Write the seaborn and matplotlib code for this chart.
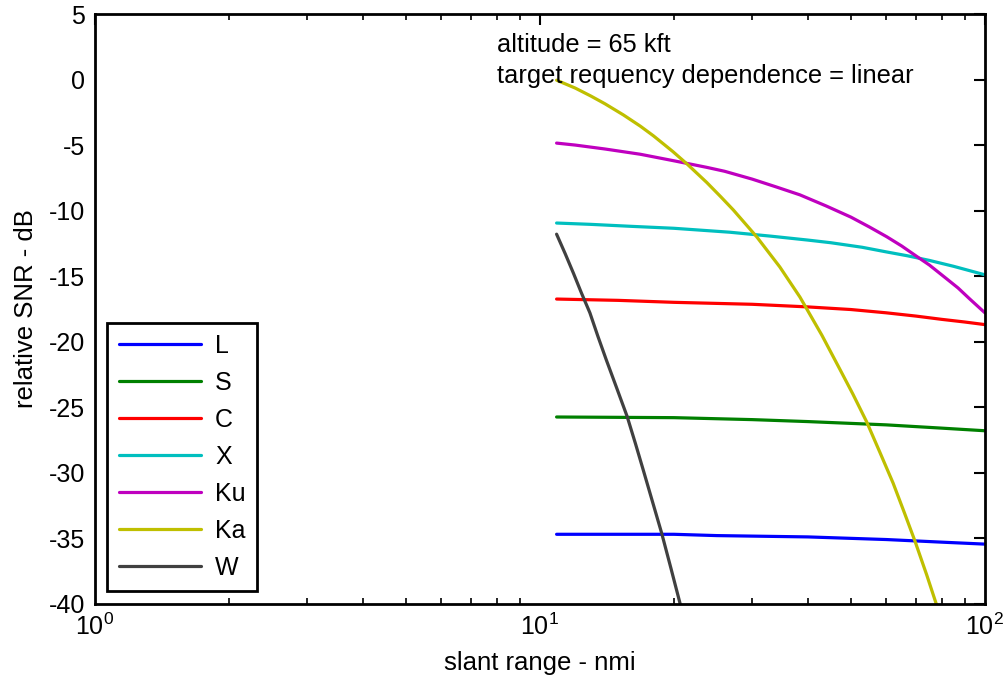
import matplotlib
matplotlib.use("Agg")
import matplotlib.pyplot as plt
import seaborn as sns
import pandas as pd

# slant range (nmi) and relative SNR (dB), per band
x_L = [10.9, 20, 25, 40, 60, 80, 100]
y_L = [-34.7, -34.7, -34.8, -34.9, -35.1, -35.3, -35.45]

x_S = [10.9, 20, 30, 40, 60, 80, 100]
y_S = [-25.75, -25.8, -25.95, -26.1, -26.35, -26.6, -26.8]

x_C = [10.9, 15, 20, 30, 40, 50, 60, 70, 80, 90, 100]
y_C = [-16.75, -16.85, -17.0, -17.15, -17.35, -17.55, -17.8, -18.05, -18.3, -18.5, -18.7]

x_X = [10.9, 13, 16, 20, 26.7, 33, 40, 45, 53, 60, 67, 75, 85, 100]
y_X = [-10.95, -11.05, -11.2, -11.35, -11.65, -11.95, -12.25, -12.45, -12.8, -13.15,
       -13.45, -13.8, -14.25, -14.9]

x_Ku = [10.9, 12, 14, 16.8, 20, 23.7, 26, 30, 34, 38.4, 44, 50, 55, 60.2, 65,
        70.3, 75, 82, 87, 92.5, 100]
y_Ku = [-4.85, -5.0, -5.3, -5.7, -6.2, -6.7, -7.0, -7.6, -8.2, -8.8, -9.65, -10.5,
        -11.25, -12.0, -12.7, -13.5, -14.15, -15.2, -15.9, -16.75, -17.8]

x_Ka = [10.9, 12, 13, 14, 15.4, 16.8, 18, 19.9, 21.5, 23.7, 25.5, 27.2, 30.7, 34.6,
        38.4, 43, 47.2, 50.5, 54.2, 58, 62.2, 66, 69.6, 74, 77.9, 80]
y_Ka = [-0.05, -0.65, -1.25, -1.85, -2.7, -3.55, -4.3, -5.5, -6.5, -7.85, -8.95,
        -9.95, -12.0, -14.3, -16.6, -19.5, -22.1, -24.0, -26.1, -28.4, -30.8, -33.1,
        -35.2, -37.8, -40.1, -41.3]

x_W = [10.9, 11.4, 11.9, 12.4, 12.95, 13.5, 14.1, 14.9, 15.7, 16.4, 17.07, 17.9,
       18.77, 19.7, 20.64, 21.2]
y_W = [-11.8, -13.3, -14.8, -16.3, -17.8, -19.6, -21.4, -23.6, -25.7, -27.8, -29.8,
       -32.2, -34.6, -37.3, -39.95, -41.5]

bands = ["L", "S", "C", "X", "Ku", "Ka", "W"]
band_x = [x_L, x_S, x_C, x_X, x_Ku, x_Ka, x_W]
band_y = [y_L, y_S, y_C, y_X, y_Ku, y_Ka, y_W]
band_colors = ["#0000ff", "#008000", "#ff0000", "#00bfbf", "#bf00bf", "#bfbf00", "#404040"]

sns.set_style("white")
plt.rcParams["font.family"] = ["Liberation Sans", "DejaVu Sans"]
plt.rcParams["axes.unicode_minus"] = False
plt.rcParams["text.color"] = "black"
plt.rcParams["axes.labelcolor"] = "black"
plt.rcParams["xtick.color"] = "black"
plt.rcParams["ytick.color"] = "black"

fig = plt.figure(figsize=(10.05, 6.9), dpi=100)
ax = fig.add_axes([0.0945, 0.125, 0.8855, 0.8547])

for name, xs, ys, col in zip(bands, band_x, band_y, band_colors):
    df = pd.DataFrame({"range": xs, "snr": ys})
    sns.lineplot(data=df, x="range", y="snr", ax=ax, color=col, linewidth=2.3, label=name)

ax.set_xscale("log")
ax.set_xlim(1, 100)
ax.set_ylim(-40, 5)
ax.set_yticks(range(-40, 6, 5))
ax.set_xlabel("slant range - nmi", fontsize=18.5, labelpad=8)
ax.set_ylabel("relative SNR - dB", fontsize=18.5, labelpad=8)
ax.tick_params(axis="both", which="major", direction="in", length=8, width=1.5,
               labelsize=18, top=True, right=True, pad=7)
ax.tick_params(axis="x", which="minor", direction="in", length=4, width=1.2,
               top=True, bottom=True)
for sp in ax.spines.values():
    sp.set_linewidth(2)
    sp.set_color("black")

ax.text(0.452, 0.967, "altitude = 65 kft\ntarget requency dependence = linear",
        transform=ax.transAxes, ha="left", va="top", fontsize=18.3, linespacing=1.35)

leg = ax.legend(loc="lower left", bbox_to_anchor=(0.0, 0.0), fontsize=18,
                handlelength=3.3, labelspacing=0.52, borderpad=0.45,
                handletextpad=0.55, borderaxespad=0.5,
                fancybox=False, framealpha=1, edgecolor="black")
leg.get_frame().set_linewidth(2)

fig.savefig("out.png", dpi=100)
